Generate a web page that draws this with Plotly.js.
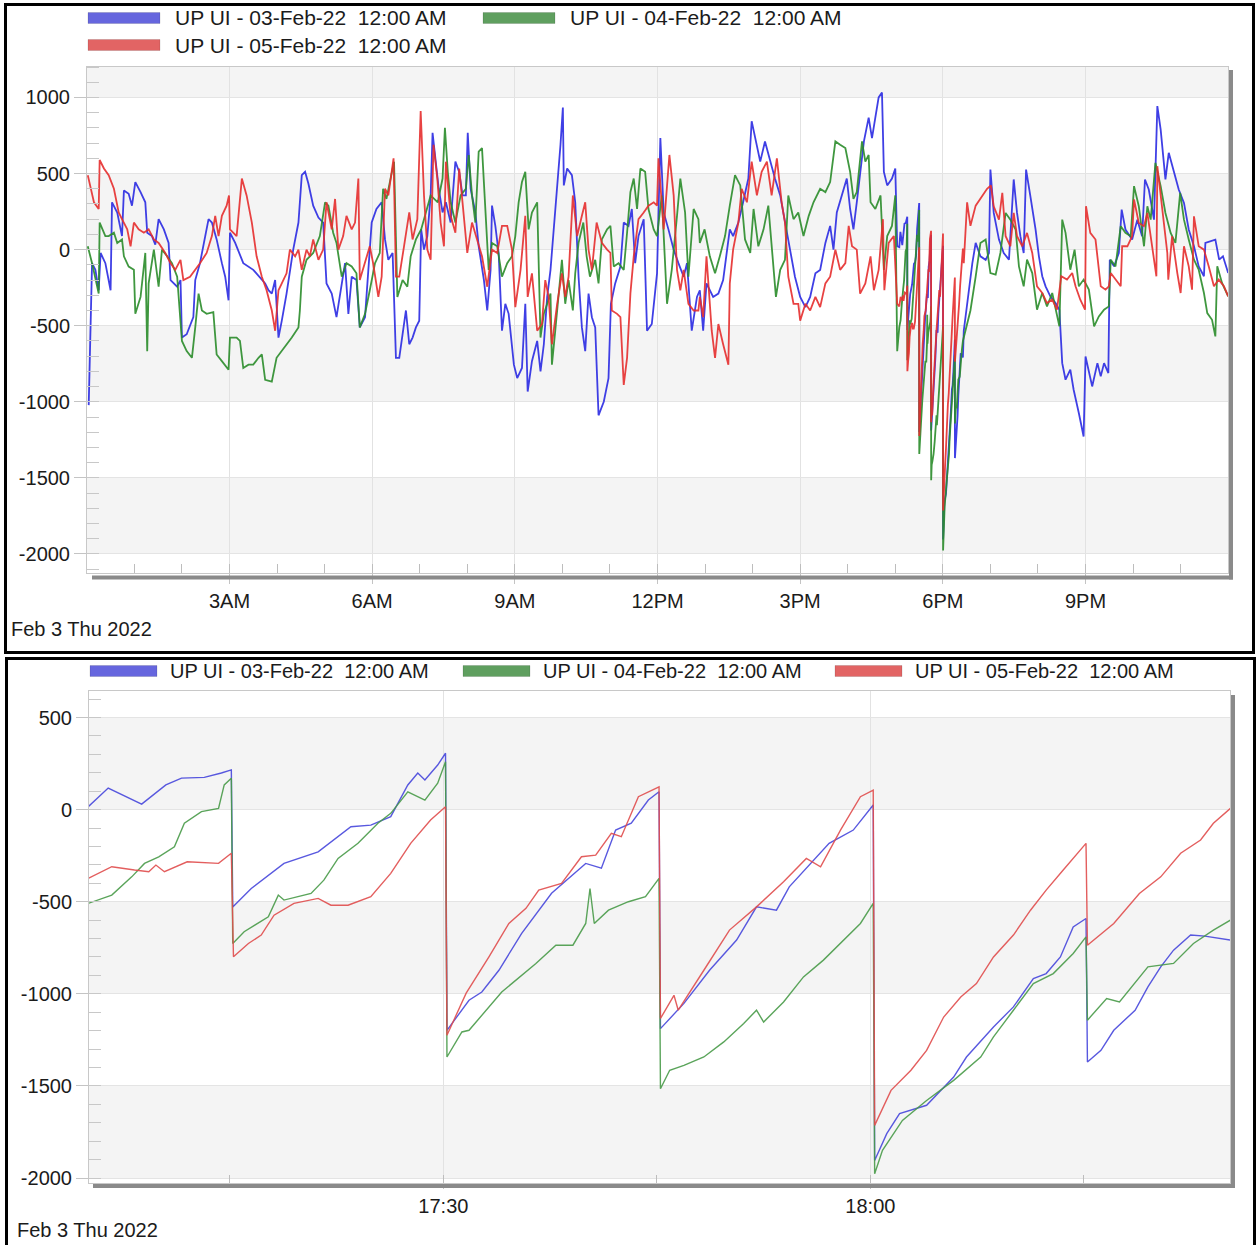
<!DOCTYPE html>
<html><head><meta charset="utf-8">
<script src="https://cdn.plot.ly/plotly-3.0.1.min.js"></script>
<style>
html,body{margin:0;padding:0;width:1259px;height:1245px;overflow:hidden;background:#fff;}
#p1{position:absolute;left:4px;top:3px;width:1245px;height:645px;border:3px solid #000;}
#p2{position:absolute;left:5px;top:657px;width:1245px;height:600px;border:3px solid #000;}
</style></head><body>
<div id="p1"></div><div id="p2"></div>
<script>
// ---------- DATA ----------
const seriesNames = ["UP UI - 03-Feb-22\u00a0 12:00 AM", "UP UI - 04-Feb-22\u00a0 12:00 AM", "UP UI - 05-Feb-22\u00a0 12:00 AM"];
const dayLabel = "Feb 3 Thu 2022";
const yTickVals = [-2000, -1500, -1000, -500, 0, 500, 1000];

// full day: [hour of day, value]
const topBlue = [[0.04,-1022],[0.08,-578],[0.11,-89],[0.18,-133],[0.25,-267],[0.29,-22],[0.39,-89],[0.50,-267],[0.53,311],[0.64,244],[0.74,89],[0.78,389],[0.88,367],[0.95,289],[1.02,444],[1.13,378],[1.23,311],[1.27,111],[1.37,89],[1.44,33],[1.51,200],[1.62,133],[1.72,44],[1.76,-200],[1.90,-244],[1.97,-200],[2.00,-578],[2.10,-556],[2.24,-444],[2.28,-200],[2.38,-89],[2.49,89],[2.56,200],[2.63,178],[2.73,67],[2.84,-89],[2.91,-178],[2.98,-333],[3.01,111],[3.12,44],[3.29,-89],[3.50,-133],[3.68,-200],[3.75,-222],[3.82,-267],[3.89,-289],[3.96,-200],[4.03,-578],[4.10,-467],[4.20,-289],[4.34,0],[4.45,178],[4.52,489],[4.59,511],[4.66,433],[4.76,289],[4.87,211],[4.97,178],[5.04,-222],[5.15,-289],[5.25,-444],[5.32,-311],[5.43,-89],[5.50,-422],[5.57,-178],[5.67,-200],[5.74,-511],[5.85,-444],[5.99,178],[6.09,267],[6.20,311],[6.27,67],[6.34,-67],[6.43,-22],[6.50,-711],[6.57,-711],[6.64,-556],[6.71,-400],[6.78,-622],[6.85,-578],[6.92,-511],[6.99,-467],[7.03,133],[7.09,0],[7.16,89],[7.23,356],[7.27,767],[7.34,578],[7.40,400],[7.48,244],[7.55,311],[7.65,178],[7.75,578],[7.83,511],[7.90,356],[7.97,356],[8.01,767],[8.07,400],[8.17,244],[8.24,22],[8.35,-200],[8.42,-400],[8.49,-133],[8.52,289],[8.59,156],[8.66,-22],[8.73,-533],[8.80,-356],[8.87,-422],[8.98,-756],[9.05,-844],[9.15,-778],[9.22,-356],[9.27,-933],[9.36,-733],[9.47,-600],[9.54,-800],[9.61,-622],[9.68,-311],[9.75,-133],[9.82,133],[9.89,400],[9.96,689],[10.01,933],[10.03,422],[10.10,533],[10.20,489],[10.27,311],[10.34,-178],[10.41,-511],[10.48,-667],[10.55,-289],[10.62,-444],[10.69,-511],[10.76,-1089],[10.87,-1000],[10.97,-844],[11.02,-356],[11.11,-222],[11.22,-111],[11.29,178],[11.39,156],[11.46,267],[11.53,-89],[11.60,89],[11.71,200],[11.78,-533],[11.88,-489],[11.99,-156],[12.06,733],[12.13,244],[12.23,133],[12.34,0],[12.44,-89],[12.55,-178],[12.62,-89],[12.72,-533],[12.83,-311],[12.89,-267],[12.96,-533],[13.03,-222],[13.17,-311],[13.28,-289],[13.38,-200],[13.52,133],[13.59,89],[13.70,178],[13.80,311],[13.91,467],[13.98,844],[14.09,689],[14.16,578],[14.26,711],[14.37,578],[14.47,467],[14.58,356],[14.68,178],[14.79,0],[14.89,-178],[15.00,-311],[15.11,-378],[15.21,-311],[15.32,-156],[15.42,-133],[15.53,44],[15.63,156],[15.70,0],[15.77,244],[15.88,356],[15.98,467],[16.05,267],[16.12,133],[16.19,311],[16.26,489],[16.34,711],[16.44,867],[16.51,733],[16.58,867],[16.65,1000],[16.72,1033],[16.76,511],[16.83,422],[16.93,467],[17.00,533],[17.04,22],[18.44,-533],[18.51,-356],[18.62,-89],[18.69,44],[18.79,-44],[18.90,-67],[18.97,-22],[19.00,526],[19.07,241],[19.18,66],[19.28,-22],[19.39,-66],[19.49,461],[19.56,241],[19.63,88],[19.70,-22],[19.75,526],[19.84,351],[19.95,132],[20.02,-44],[20.09,-175],[20.16,-241],[20.26,-307],[20.37,-351],[20.45,-395],[20.51,-746],[20.58,-855],[20.68,-789],[20.75,-921],[20.86,-1075],[20.96,-1228],[21.00,-702],[21.07,-811],[21.14,-899],[21.25,-746],[21.32,-833],[21.39,-746],[21.48,-811],[21.51,-66],[21.60,-110],[21.70,-22],[21.76,263],[21.84,132],[21.98,66],[22.09,197],[22.19,88],[22.25,461],[22.33,395],[22.44,197],[22.51,943],[22.58,789],[22.68,461],[22.75,636],[22.86,504],[22.96,395],[23.07,307],[23.17,132],[23.28,22],[23.38,-110],[23.49,-175],[23.52,44],[23.73,66],[23.81,-66],[23.89,-44],[24.00,-154]];

const topGreen = [[0.02,22],[0.11,-89],[0.25,-289],[0.27,178],[0.39,89],[0.46,89],[0.57,111],[0.64,44],[0.74,67],[0.78,-44],[0.88,-111],[0.99,-133],[1.02,-422],[1.13,-311],[1.23,-22],[1.27,-667],[1.30,-222],[1.41,0],[1.51,-244],[1.58,0],[1.69,-44],[1.79,-89],[1.90,-178],[2.00,-600],[2.10,-667],[2.21,-711],[2.28,-511],[2.35,-289],[2.42,-400],[2.52,-422],[2.66,-411],[2.73,-689],[2.84,-733],[2.98,-789],[3.01,-578],[3.15,-578],[3.22,-600],[3.29,-778],[3.40,-756],[3.50,-756],[3.61,-711],[3.68,-689],[3.75,-856],[3.89,-867],[3.99,-711],[4.10,-667],[4.20,-622],[4.31,-578],[4.45,-511],[4.48,-400],[4.52,-178],[4.62,-67],[4.76,-22],[4.90,89],[5.01,311],[5.08,289],[5.18,111],[5.25,44],[5.36,-178],[5.46,-89],[5.57,-111],[5.67,-156],[5.74,-511],[5.85,-422],[5.95,-267],[6.06,-89],[6.16,-22],[6.23,400],[6.30,333],[6.41,489],[6.46,578],[6.53,-311],[6.64,-200],[6.74,-244],[6.81,-44],[6.92,67],[7.03,133],[7.13,244],[7.23,356],[7.38,311],[7.48,467],[7.53,800],[7.59,511],[7.65,311],[7.75,178],[7.86,356],[7.97,400],[8.03,622],[8.10,356],[8.17,178],[8.24,644],[8.31,667],[8.38,244],[8.45,-133],[8.52,44],[8.63,22],[8.73,-178],[8.84,-89],[8.94,-44],[9.01,89],[9.08,311],[9.15,444],[9.22,511],[9.29,133],[9.36,244],[9.47,311],[9.54,-578],[9.61,-422],[9.75,-289],[9.78,-756],[9.85,-533],[9.92,-311],[9.99,-67],[10.06,-356],[10.13,-200],[10.22,-400],[10.27,-156],[10.34,44],[10.44,178],[10.51,-44],[10.58,-178],[10.69,-67],[10.76,-222],[10.83,67],[10.94,133],[11.01,156],[11.08,-111],[11.18,-89],[11.29,-133],[11.36,111],[11.43,378],[11.50,467],[11.57,267],[11.64,533],[11.74,511],[11.81,267],[11.92,133],[11.99,89],[12.09,356],[12.20,-356],[12.30,-133],[12.41,222],[12.48,467],[12.58,244],[12.65,-178],[12.76,267],[12.86,200],[12.89,44],[12.99,133],[13.10,-44],[13.21,-156],[13.31,-44],[13.42,89],[13.52,289],[13.63,489],[13.74,422],[13.84,67],[13.95,-22],[14.02,267],[14.12,22],[14.23,133],[14.33,289],[14.44,-89],[14.49,-311],[14.58,-133],[14.68,-67],[14.75,356],[14.86,200],[14.96,244],[15.07,89],[15.18,222],[15.28,311],[15.42,400],[15.53,378],[15.63,444],[15.74,711],[15.84,689],[15.95,667],[16.05,511],[16.12,333],[16.19,378],[16.30,711],[16.37,578],[16.44,622],[16.48,311],[16.58,267],[16.69,356],[16.76,-133],[16.83,89],[16.93,156],[17.00,356],[17.04,-667],[18.48,-533],[18.58,-400],[18.69,-178],[18.79,44],[18.90,67],[19.00,-154],[19.11,-164],[19.21,-22],[19.32,241],[19.42,197],[19.53,132],[19.60,-110],[19.70,-241],[19.77,-66],[19.88,-154],[19.98,-395],[20.09,-285],[20.19,-373],[20.30,-285],[20.37,-395],[20.45,-504],[20.51,197],[20.58,110],[20.68,-132],[20.77,0],[20.86,-241],[20.96,-197],[21.07,-263],[21.18,-504],[21.28,-439],[21.39,-395],[21.49,-373],[21.53,-66],[21.63,-110],[21.74,154],[21.84,110],[21.95,88],[22.02,417],[22.12,285],[22.23,22],[22.30,285],[22.37,197],[22.47,570],[22.58,417],[22.68,241],[22.79,110],[22.89,44],[22.99,373],[23.07,197],[23.17,66],[23.28,-66],[23.38,-132],[23.49,-285],[23.56,-417],[23.66,-461],[23.73,-570],[23.77,-110],[23.87,-219],[24.00,-307]];

const topRed = [[0.02,489],[0.08,400],[0.15,311],[0.25,267],[0.27,589],[0.36,533],[0.46,489],[0.57,400],[0.67,244],[0.74,200],[0.85,133],[0.92,22],[0.99,178],[1.09,133],[1.20,111],[1.30,133],[1.41,67],[1.51,44],[1.65,-22],[1.76,-89],[1.86,-133],[1.97,-67],[2.03,-200],[2.17,-178],[2.28,-133],[2.38,-89],[2.52,-22],[2.63,89],[2.70,222],[2.77,89],[2.84,222],[2.94,289],[2.99,356],[3.01,133],[3.15,89],[3.26,467],[3.36,356],[3.47,178],[3.57,-44],[3.68,-178],[3.78,-267],[3.89,-400],[3.96,-533],[4.03,-267],[4.10,-222],[4.20,-156],[4.27,0],[4.38,-44],[4.45,0],[4.52,-133],[4.62,0],[4.69,-44],[4.76,67],[4.87,-67],[4.97,0],[5.04,311],[5.15,133],[5.22,333],[5.29,0],[5.39,89],[5.46,222],[5.57,133],[5.64,178],[5.71,467],[5.74,-200],[5.85,-89],[5.95,22],[6.02,-89],[6.13,-311],[6.20,-178],[6.27,400],[6.34,356],[6.45,600],[6.50,-178],[6.57,-178],[6.67,22],[6.78,244],[6.85,67],[6.95,200],[7.02,911],[7.09,356],[7.16,0],[7.23,-67],[7.29,689],[7.37,467],[7.44,178],[7.51,22],[7.55,578],[7.65,222],[7.75,111],[7.83,533],[7.90,311],[8.00,-22],[8.10,178],[8.20,67],[8.31,-44],[8.42,-244],[8.52,0],[8.63,-22],[8.73,156],[8.84,156],[8.94,0],[9.01,-378],[9.12,-133],[9.22,222],[9.27,-311],[9.36,-156],[9.47,-533],[9.57,-489],[9.64,-200],[9.71,-311],[9.78,-622],[9.89,-356],[9.99,-156],[10.06,-311],[10.13,-178],[10.22,356],[10.31,89],[10.41,222],[10.48,311],[10.55,0],[10.62,-133],[10.72,178],[10.83,44],[10.94,0],[11.01,-22],[11.04,-400],[11.15,-422],[11.22,-444],[11.29,-889],[11.36,-711],[11.43,-289],[11.50,-44],[11.60,200],[11.71,244],[11.81,289],[11.92,311],[11.99,289],[12.02,600],[12.13,133],[12.25,622],[12.34,356],[12.41,-133],[12.48,-267],[12.55,-133],[12.65,-356],[12.76,-400],[12.86,-400],[12.89,-311],[12.96,-444],[13.03,-44],[13.14,-533],[13.21,-711],[13.28,-489],[13.38,-622],[13.49,-756],[13.52,-222],[13.59,0],[13.70,178],[13.77,400],[13.88,311],[13.98,578],[14.09,356],[14.19,511],[14.30,578],[14.40,356],[14.51,600],[14.61,311],[14.68,178],[14.75,-178],[14.86,-356],[14.96,-356],[15.00,-467],[15.11,-356],[15.21,-400],[15.32,-311],[15.42,-378],[15.53,-222],[15.63,-178],[15.74,0],[15.84,-133],[15.95,-89],[16.02,156],[16.09,22],[16.19,0],[16.26,-289],[16.37,-222],[16.48,-44],[16.55,-267],[16.65,-133],[16.74,200],[16.77,-267],[16.86,44],[16.97,89],[17.04,-356],[18.44,-89],[18.51,311],[18.58,156],[18.69,289],[18.83,356],[18.93,400],[19.01,422],[19.07,285],[19.18,197],[19.25,373],[19.32,88],[19.42,22],[19.49,241],[19.56,88],[19.67,22],[19.77,110],[19.88,-22],[19.98,-241],[20.09,-285],[20.19,-351],[20.30,-329],[20.40,-395],[20.49,-175],[20.61,-197],[20.72,-154],[20.79,-241],[20.89,-329],[20.99,-395],[21.01,285],[21.10,110],[21.21,66],[21.28,-154],[21.32,-241],[21.42,-263],[21.49,-241],[21.53,-154],[21.63,-197],[21.74,-241],[21.77,22],[21.88,22],[21.98,88],[22.02,329],[22.12,175],[22.23,154],[22.30,241],[22.40,22],[22.49,-175],[22.51,548],[22.61,285],[22.72,-22],[22.74,-197],[22.82,88],[22.93,-154],[23.00,-285],[23.07,22],[23.17,-110],[23.24,-263],[23.28,219],[23.38,22],[23.49,0],[23.59,-110],[23.70,-241],[23.80,-197],[23.91,-241],[24.00,-307]];

// 17:05 - 18:25 detail: [minutes after 17:00, value]
const zoomBlue = [[5.05,16],[6.45,117],[8.8,30],[10.5,134],[11.6,171],[13.2,175],[14.4,199],[15.1,216],[15.2,-528],[16.5,-428],[18.8,-292],[21.2,-229],[23.5,-93],[24.9,-84],[26.3,-38],[27.5,134],[28.2,199],[28.7,161],[29.6,242],[30.15,306],[30.25,-1198],[31.8,-1035],[32.7,-990],[33.9,-872],[35.5,-672],[37.6,-454],[40.0,-292],[41.1,-318],[42.1,-111],[43.2,-74],[44.4,52],[45.15,97],[45.25,-1189],[46.9,-1052],[48.7,-872],[50.6,-708],[52.0,-528],[53.4,-546],[54.3,-419],[55.7,-301],[57.1,-183],[58.8,-111],[60.2,25],[60.3,-1905],[61.15,-1759],[62.05,-1650],[63.95,-1605],[65.85,-1452],[66.75,-1343],[68.65,-1180],[70.05,-1071],[71.45,-917],[72.35,-890],[73.35,-800],[74.25,-637],[75.15,-591],[75.25,-1370],[76.2,-1307],[77.1,-1198],[78.6,-1089],[79.5,-962],[80.4,-854],[81.3,-763],[82.5,-681],[83.5,-687],[85.3,-708]];
const zoomGreen = [[5.05,-509],[6.7,-464],[8.1,-365],[9.0,-292],[10.0,-256],[11.1,-202],[11.8,-74],[13.0,-11],[14.2,7],[14.6,134],[15.1,170],[15.2,-727],[16.0,-663],[17.7,-582],[18.4,-464],[18.8,-491],[20.7,-455],[21.6,-383],[22.6,-265],[24.0,-183],[25.4,-74],[26.3,-20],[27.5,97],[28.7,52],[29.6,143],[30.15,260],[30.25,-1343],[31.3,-1207],[31.8,-1198],[34.1,-990],[36.5,-835],[37.9,-736],[39.1,-736],[40.0,-618],[40.3,-428],[40.6,-618],[41.6,-546],[43.0,-500],[44.2,-473],[45.15,-373],[45.25,-1515],[45.9,-1415],[46.9,-1388],[48.3,-1343],[49.7,-1261],[51.1,-1161],[52.0,-1089],[52.5,-1153],[53.9,-1044],[55.3,-908],[56.7,-817],[58.1,-708],[59.3,-618],[60.2,-509],[60.3,-1977],[60.85,-1850],[62.25,-1687],[63.95,-1579],[65.85,-1470],[67.75,-1343],[68.65,-1234],[70.05,-1089],[71.45,-944],[72.85,-890],[74.25,-781],[75.15,-691],[75.25,-1143],[76.6,-1026],[77.5,-1044],[79.5,-854],[81.3,-835],[82.7,-727],[84.1,-654],[85.3,-600]];
const zoomRed = [[5.05,-373],[6.7,-310],[8.3,-328],[9.3,-337],[9.8,-301],[10.4,-337],[12.0,-283],[14.2,-292],[15.1,-237],[15.25,-799],[16.3,-727],[17.2,-681],[18.1,-573],[19.5,-509],[21.2,-482],[22.1,-519],[23.3,-519],[24.9,-473],[26.3,-346],[27.7,-183],[29.1,-56],[30.15,16],[30.25,-1225],[31.6,-996],[33.2,-799],[34.6,-618],[35.8,-536],[36.7,-437],[38.3,-401],[39.7,-256],[40.7,-247],[41.8,-129],[42.5,-147],[43.7,70],[45.15,124],[45.25,-1134],[46.2,-1008],[46.5,-1089],[48.3,-872],[50.1,-654],[52.0,-528],[53.9,-392],[55.5,-265],[56.5,-310],[57.9,-111],[59.3,70],[60.2,106],[60.3,-1714],[61.45,-1524],[62.85,-1415],[63.95,-1307],[65.15,-1126],[66.35,-1017],[67.45,-944],[68.65,-800],[70.05,-681],[71.25,-546],[72.35,-437],[73.55,-328],[75.15,-183],[75.25,-736],[77.1,-618],[78.9,-455],[80.4,-365],[81.8,-237],[83.2,-165],[84.1,-74],[85.3,7]];

// ---------- HELPERS ----------
function d(h){ const ms = Date.UTC(2022,1,3) + Math.round(h*3600000); return new Date(ms).toISOString().slice(0,19).replace('T',' '); }
function merge(top, zoom){
  const pts = top.filter(p => p[0] < 17.08 || p[0] > 18.43).concat(zoom.map(p => [17 + p[0]/60, p[1]]));
  pts.sort((a,b)=>a[0]-b[0]);
  return pts;
}
const FONT = {family:'Liberation Sans, Arial, sans-serif', size:20, color:'#1b1b1b'};
const lineCols = ['#2a2ae2','#2a8c2a','#e62e2e'];
const lineColsZ = ['#4646dc','#489a48','#e04c4c'];
const swatchCols = ['#6666de','#5f9f5f','#e26464'];

function buildPanel(div, dims, series, xaxis, yRange, bands, legendPos, legendSize, dayPos, shadow, lw){
  const {W,H,l,r,t,b} = dims;
  const pw = W-l-r, ph = H-t-b;
  const px = x => (x-l)/pw, py = y => (H-b-y)/ph;
  const traces = series.map((s,i)=>({
    type:'scatter', mode:'lines', x:s.pts.map(p=>d(p[0])), y:s.pts.map(p=>p[1]),
    line:{color:s.color, width:lw}, opacity:0.9, hoverinfo:'skip', showlegend:false
  }));
  const shapes = [];
  bands.forEach(bd=>shapes.push({type:'rect', xref:'x', yref:'y', x0:xaxis.range[0], x1:xaxis.range[1], y0:bd[0], y1:bd[1], fillcolor:'#f4f4f4', line:{width:0}, layer:'below'}));
  shapes.push({type:'rect', xref:'paper', yref:'paper', x0:px(shadow.bx0), x1:px(shadow.bx1), y0:py(shadow.by1), y1:py(shadow.by0), fillcolor:'#8a8a8a', line:{width:0}, layer:'above'});
  shapes.push({type:'rect', xref:'paper', yref:'paper', x0:px(shadow.rx0), x1:px(shadow.rx1), y0:py(shadow.ry1), y1:py(shadow.ry0), fillcolor:'#8a8a8a', line:{width:0}, layer:'above'});
  const annotations = [];
  const lfont = Object.assign({}, FONT, {size:legendSize});
  legendPos.forEach((lp,i)=>{
    shapes.push({type:'rect', xref:'paper', yref:'paper', x0:px(lp.sx0), x1:px(lp.sx1), y0:py(lp.yc+5.5), y1:py(lp.yc-5.5), fillcolor:swatchCols[i], line:{width:0.8, color:'rgba(0,0,0,0.15)'}, layer:'above'});
    annotations.push({text:seriesNames[i], xref:'paper', yref:'paper', x:px(lp.tx), y:py(lp.yc), xanchor:'left', yanchor:'middle', showarrow:false, font:lfont, borderpad:0});
  });
  annotations.push({text:dayLabel, xref:'paper', yref:'paper', x:px(dayPos.x), y:py(dayPos.y), xanchor:'left', yanchor:'middle', showarrow:false, font:FONT, borderpad:0});
  const layout = {
    width:W, height:H, margin:{l,r,t,b,pad:0}, autosize:false,
    paper_bgcolor:'#fff', plot_bgcolor:'#fff', showlegend:false,
    font:FONT,
    xaxis:Object.assign({type:'date', showline:true, linecolor:'#c8c8c8', mirror:true, showgrid:true, gridcolor:'#e2e2e2', zeroline:false,
      ticks:'outside', tickcolor:'#c4c4c4', tickfont:FONT, fixedrange:true}, xaxis),
    yaxis:{range:yRange, tickmode:'array', tickvals:yTickVals, ticktext:yTickVals.map(String), ticks:'outside', ticklen:12, tickcolor:'#c4c4c4',
      showline:true, linecolor:'#c8c8c8', mirror:true, showgrid:true, gridcolor:'#e4e4e4', zeroline:false, tickfont:FONT,
      minor:{dtick:100, tick0:0, ticks:'inside', ticklen:12, tickcolor:'#c8c8c8', showgrid:false}, fixedrange:true},
    shapes, annotations
  };
  Plotly.newPlot(div, traces, layout, {displayModeBar:false, staticPlot:true});
}

// ---------- TOP PANEL ----------
buildPanel('p1', {W:1245,H:645,l:80,r:24,t:61,b:78},
  [{pts:merge(topBlue,zoomBlue),color:lineCols[0]},{pts:merge(topGreen,zoomGreen),color:lineCols[1]},{pts:merge(topRed,zoomRed),color:lineCols[2]}],
  {range:[d(0.004), d(23.996)], tick0:d(0), dtick:3*3600000, tickformat:'%-I%p', ticklen:10,
   minor:{dtick:3600000, tick0:d(0), ticks:'inside', ticklen:9, tickcolor:'#bdbdbd', showgrid:false}},
  [-2125,1200], [[1000,1500],[0,500],[-1000,-500],[-2000,-1500]],
  [{sx0:81,sx1:153,yc:12,tx:167},{sx0:476,sx1:548,yc:12,tx:562},{sx0:81,sx1:153,yc:39,tx:167}], 21,
  {x:3,y:623},
  {bx0:85,bx1:1226,by0:569.5,by1:573.5, rx0:1222,rx1:1226,ry0:64,ry1:573.5}, 1.8);

// ---------- BOTTOM PANEL ----------
buildPanel('p2', {W:1245,H:600,l:81,r:23,t:31,b:77},
  [{pts:zoomBlue.map(p=>[17+p[0]/60,p[1]]),color:lineColsZ[0]},{pts:zoomGreen.map(p=>[17+p[0]/60,p[1]]),color:lineColsZ[1]},{pts:zoomRed.map(p=>[17+p[0]/60,p[1]]),color:lineColsZ[2]}],
  {range:[d(17+5.1/60), d(17+85.28/60)], tick0:d(17), dtick:1800000, tickformat:'%H:%M', ticklen:5,
   minor:{dtick:900000, tick0:d(17), ticks:'inside', ticklen:8, tickcolor:'#bdbdbd', showgrid:false}},
  [-2027,644], [[0,500],[-1000,-500],[-2000,-1500]],
  [{sx0:82,sx1:149,yc:11,tx:161},{sx0:455,sx1:522,yc:11,tx:534},{sx0:827,sx1:894,yc:11,tx:906}], 20,
  {x:8,y:570},
  {bx0:85,bx1:1227,by0:524,by1:528, rx0:1223,rx1:1227,ry0:35,ry1:528}, 1.4);
</script></body></html>
